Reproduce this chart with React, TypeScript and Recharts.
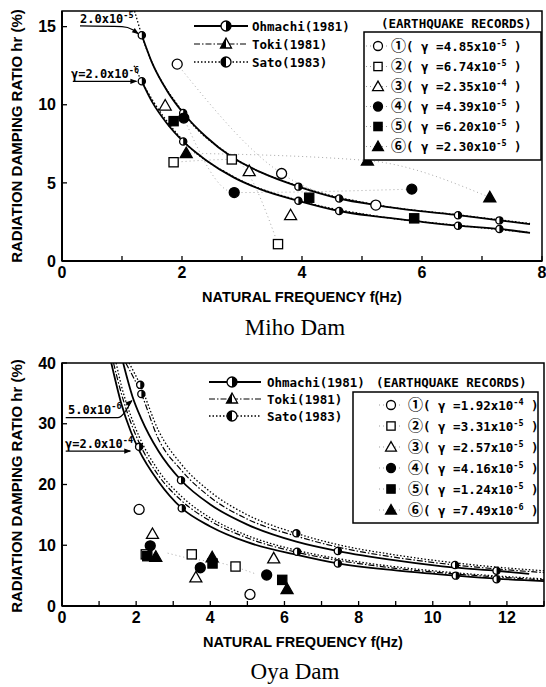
import React from "react";
import { ComposedChart, Line, Scatter, XAxis, YAxis, ReferenceArea } from "recharts";

// ---------- Miho Dam (top) ----------
const mihoXTicks = [0, 1, 2, 3, 4, 5, 6, 7, 8];
const mihoYTicks = [0, 5, 10, 15];

// Ohmachi (1981), gamma = 2.0x10^-5
const mihoOhHighF = [1.33, 1.5, 1.75, 2.02, 2.4, 2.83, 3.3, 3.94, 4.62, 5.23, 5.9, 6.6, 7.29, 7.8];
const mihoOhHighV = [14.45, 12.7, 10.9, 9.47, 7.95, 6.65, 5.7, 4.76, 4.0, 3.58, 3.22, 2.93, 2.6, 2.36];
// Ohmachi (1981), gamma = 2.0x10^-6
const mihoOhLowF = [1.33, 1.5, 1.75, 2.02, 2.4, 2.86, 3.3, 3.94, 4.62, 5.23, 5.9, 6.6, 7.29, 7.8];
const mihoOhLowV = [11.5, 10.2, 8.8, 7.65, 6.45, 5.35, 4.6, 3.85, 3.2, 2.85, 2.55, 2.26, 2.05, 1.8];
// Sato (1983)
const mihoSatoHighF = [1.21, 1.33, 2.02, 2.83, 3.94, 5.23, 6.6, 7.8];
const mihoSatoHighV = [16, 14.45, 9.5, 6.7, 4.8, 3.6, 2.95, 2.4];
const mihoSatoLowF = [1.2, 1.33, 2.02, 2.86, 3.94, 5.23, 6.6, 7.8];
const mihoSatoLowV = [12.5, 11.5, 7.7, 5.4, 3.88, 2.88, 2.28, 1.82];

// curve markers
const mihoMarkF = [1.33, 2.02, 3.94, 4.62, 6.6, 7.29, 1.33, 2.02, 3.94, 4.62, 6.6, 7.29];
const mihoMarkV = [14.45, 9.47, 4.76, 4.0, 2.93, 2.6, 11.5, 7.65, 3.85, 3.2, 2.26, 2.05];

// earthquake records
const mihoR1F = [1.92, 3.66, 5.23];
const mihoR1V = [12.6, 5.6, 3.58];
const mihoR2F = [1.86, 2.83, 3.6];
const mihoR2V = [6.32, 6.5, 1.08];
const mihoR3F = [1.72, 3.12, 3.81];
const mihoR3V = [9.95, 5.75, 2.93];
const mihoR4F = [2.03, 2.87, 5.83];
const mihoR4V = [9.15, 4.38, 4.6];
const mihoR5F = [1.86, 4.12, 5.87];
const mihoR5V = [8.95, 4.05, 2.73];
const mihoR6F = [2.07, 5.09, 7.13];
const mihoR6V = [6.9, 6.43, 4.07];
const mihoRecLabels = ["4.85", "6.74", "2.35", "4.39", "6.20", "2.30"];
const mihoRecExps = ["-5", "-5", "-4", "-5", "-5", "-5"];

// ---------- Oya Dam (bottom) ----------
const oyaXTicks = [0, 1, 2, 3, 4, 5, 6, 7, 8, 9, 10, 11, 12, 13];
const oyaYTicks = [0, 10, 20, 30, 40];

const oyaOhHighF = [1.65, 1.9, 2.14, 2.6, 3.21, 4, 5, 6.32, 7.44, 9, 10.6, 11.72, 12.6];
const oyaOhHighV = [40, 34.5, 30.8, 25.5, 20.7, 16.7, 13.4, 10.6, 9.05, 7.5, 6.3, 5.8, 5.3];
const oyaTokiHighF = [1.72, 2.14, 2.6, 3.21, 4, 5, 6.32, 7.44, 9, 10.6, 11.72, 13];
const oyaTokiHighV = [40, 34.9, 27.5, 22.4, 17.9, 14.3, 11.5, 9.7, 8.0, 6.75, 6.1, 5.5];
const oyaSatoHighF = [1.81, 2.11, 2.6, 3.21, 4, 5, 6.32, 7.44, 9, 10.6, 11.72, 13];
const oyaSatoHighV = [40, 36.4, 28.9, 23.4, 18.8, 15.0, 11.96, 10.1, 8.4, 7.1, 6.4, 5.8];

const oyaOhLowF = [1.33, 1.6, 1.85, 2.08, 2.6, 3.23, 4, 5, 6.34, 7.44, 9, 10.62, 11.72, 13];
const oyaOhLowV = [40, 33.3, 28.8, 25.6, 20.5, 16.1, 13.1, 10.5, 8.4, 7.0, 5.85, 5.0, 4.5, 4.1];
const oyaTokiLowF = [1.39, 1.6, 1.85, 2.08, 2.6, 3.23, 4, 5, 6.34, 7.44, 9, 10.62, 11.72, 13];
const oyaTokiLowV = [40, 35, 30.3, 26.9, 21.5, 17.3, 14, 11.2, 8.83, 7.53, 6.2, 5.27, 4.78, 4.3];
const oyaSatoLowF = [1.46, 1.6, 1.85, 2.08, 2.6, 3.23, 4, 5, 6.34, 7.44, 9, 10.62, 11.72, 13];
const oyaSatoLowV = [40, 36.3, 31.4, 27.9, 22.3, 18, 14.5, 11.6, 9.15, 7.8, 6.45, 5.46, 4.95, 4.46];

const oyaMarkF = [2.11, 2.14, 3.21, 6.32, 7.44, 10.6, 11.72, 2.08, 3.23, 6.34, 7.44, 10.62, 11.72];
const oyaMarkV = [36.4, 34.9, 20.7, 11.96, 9.05, 6.75, 5.8, 26.2, 16.1, 8.94, 7.0, 5.0, 4.4];

const oyaR1F = [2.08, 5.07];
const oyaR1V = [15.9, 1.9];
const oyaR2F = [2.26, 3.5, 4.68];
const oyaR2V = [8.5, 8.5, 6.5];
const oyaR3F = [2.44, 3.61, 5.71];
const oyaR3V = [11.86, 4.7, 7.85];
const oyaR4F = [2.38, 3.73, 5.52];
const oyaR4V = [9.9, 6.3, 5.1];
const oyaR5F = [2.3, 4.06, 5.94];
const oyaR5V = [8.2, 7.0, 4.3];
const oyaR6F = [2.53, 4.05, 6.07];
const oyaR6V = [8.1, 8.0, 2.8];
const oyaTraceF = [2.85, 3.43, 4.33, 5.23];
const oyaTraceV = [8.7, 7.85, 7.0, 5.27];
const oyaRecLabels = ["1.92", "3.31", "2.57", "4.16", "1.24", "7.49"];
const oyaRecExps = ["-4", "-5", "-5", "-5", "-5", "-6"];

// annotation leaders (with arrow tips at the last point)
const mihoLead1F = [0.3, 1.0, 1.18, 1.27];
const mihoLead1V = [15.05, 15.0, 14.8, 14.55];
const mihoLead2F = [0.18, 1.24];
const mihoLead2V = [11.5, 11.5];
const oyaLead1F = [0.1, 1.5, 1.88];
const oyaLead1V = [31, 31, 33.8];
const oyaLead2F = [0.1, 1.84];
const oyaLead2V = [25.5, 25.5];

const recordKinds = ["oc", "os", "ot", "fc", "fs", "ft"];
const circled = ["①", "②", "③", "④", "⑤", "⑥"];

type Pt = { f: number; v: number };
const zip = (f: number[], v: number[]): Pt[] => f.map((x, i) => ({ f: x, v: v[i] }));
const last = (f: number[], v: number[]): Pt => ({ f: f[f.length - 1], v: v[v.length - 1] });

const MONO = '"DejaVu Sans Mono", "Noto Sans CJK JP", monospace';
const CJK = '"Noto Sans CJK JP", "DejaVu Sans", sans-serif';
const SANS = '"Liberation Sans", Arial, sans-serif';
const SERIF = '"Liberation Serif", "Times New Roman", serif';

function Mark({ cx, cy, kind, s = 1 }: { cx: number; cy: number; kind: string; s?: number }) {
  const st = { stroke: "#000", strokeWidth: 1.3 };
  const fill = kind.startsWith("f") ? "#000" : "#fff";
  if (kind.endsWith("c")) return <circle cx={cx} cy={cy} r={5 * s} fill={fill} {...st} />;
  if (kind.endsWith("s"))
    return <rect x={cx - 4.6 * s} y={cy - 4.6 * s} width={9.2 * s} height={9.2 * s} fill={fill} {...st} />;
  return (
    <polygon
      points={`${cx},${cy - 6 * s} ${cx + 6 * s},${cy + 4.5 * s} ${cx - 6 * s},${cy + 4.5 * s}`}
      fill={fill}
      {...st}
    />
  );
}

function HalfDot({ cx, cy, r = 3.6, left = false }: { cx: number; cy: number; r?: number; left?: boolean }) {
  const d = `M${cx},${cy - r} A${r},${r} 0 0 ${left ? 0 : 1} ${cx},${cy + r} Z`;
  return (
    <g>
      <circle cx={cx} cy={cy} r={r} fill="#fff" stroke="#000" strokeWidth={1.3} />
      <path d={d} fill="#000" />
    </g>
  );
}

// small arrow head pointing right (rotated for the curved leaders)
function Tip({ cx, cy, angle = 0 }: { cx: number; cy: number; angle?: number }) {
  return (
    <polygon
      points={`${cx + 1},${cy} ${cx - 6},${cy - 2.6} ${cx - 6},${cy + 2.6}`}
      fill="#000"
      transform={`rotate(${angle} ${cx} ${cy})`}
    />
  );
}

const lineStyle: Record<string, { dash?: string; w: number }> = {
  oh: { w: 1.8 },
  toki: { dash: "6 2 1.5 2", w: 1.2 },
  sato: { dash: "1.5 2", w: 1.3 },
};

type Curve = { pts: Pt[]; kind: string };
type Rec = { pts: Pt[]; kind: string };

function DamChart(props: {
  top: number;
  height: number;
  right: number;
  xMax: number;
  yMax: number;
  xTicks: number[];
  yTicks: number[];
  curves: Curve[];
  records: Rec[];
  traces: Pt[][];
  markers: Pt[];
  leaders: Pt[][];
  tips: { p: Pt; angle: number }[];
}) {
  const tick = { fill: "#000", fontSize: 16, fontWeight: "bold", fontFamily: SANS };
  return (
    <div style={{ position: "absolute", left: 0, top: props.top }}>
      <ComposedChart width={546} height={props.height} margin={{ top: 11, right: props.right, bottom: 0, left: 0 }}>
        <XAxis
          type="number"
          dataKey="f"
          domain={[0, props.xMax]}
          ticks={props.xTicks}
          interval={0}
          tickFormatter={(t: number) => (t % 2 === 0 ? String(t) : "")}
          tickSize={-5}
          tickMargin={11}
          height={44}
          axisLine={{ stroke: "#000", strokeWidth: 2 }}
          tickLine={{ stroke: "#000", strokeWidth: 1.3 }}
          tick={tick}
          allowDataOverflow
          label={{
            value: "NATURAL FREQUENCY  f(Hz)",
            position: "insideBottom",
            offset: 3,
            fill: "#000",
            fontSize: 14.5,
            fontWeight: "bold",
            fontFamily: SANS,
          }}
        />
        <YAxis
          type="number"
          dataKey="v"
          domain={[0, props.yMax]}
          ticks={props.yTicks}
          interval={0}
          width={62}
          tickSize={-5}
          tickMargin={11}
          axisLine={{ stroke: "#000", strokeWidth: 2 }}
          tickLine={{ stroke: "#000", strokeWidth: 1.3 }}
          tick={tick}
          allowDataOverflow
        />
        <ReferenceArea x1={0} x2={props.xMax} y1={0} y2={props.yMax} fill="none" stroke="#000" strokeWidth={1.5} />
        {props.traces.map((t, i) => (
          <Line
            key={"t" + i}
            data={t}
            dataKey="v"
            type="monotone"
            stroke="#a8a8a8"
            strokeWidth={1}
            strokeDasharray="1 3"
            dot={false}
            activeDot={false}
            isAnimationActive={false}
          />
        ))}
        {props.curves.map((c, i) => (
          <Line
            key={"c" + i}
            data={c.pts}
            dataKey="v"
            type="monotone"
            stroke="#000"
            strokeWidth={lineStyle[c.kind].w}
            strokeDasharray={lineStyle[c.kind].dash}
            dot={false}
            activeDot={false}
            isAnimationActive={false}
          />
        ))}
        {props.leaders.map((l, i) => (
          <Line
            key={"l" + i}
            data={l}
            dataKey="v"
            type="monotone"
            stroke="#000"
            strokeWidth={1.2}
            dot={false}
            activeDot={false}
            isAnimationActive={false}
          />
        ))}
        {props.tips.map((t, i) => (
          <Scatter
            key={"a" + i}
            data={[t.p]}
            dataKey="v"
            isAnimationActive={false}
            shape={(p: any) => <Tip cx={p.cx} cy={p.cy} angle={t.angle} />}
          />
        ))}
        <Scatter
          data={props.markers}
          dataKey="v"
          isAnimationActive={false}
          shape={(p: any) => <HalfDot cx={p.cx} cy={p.cy} />}
        />
        {props.records.map((r, i) => (
          <Scatter
            key={"r" + i}
            data={r.pts}
            dataKey="v"
            isAnimationActive={false}
            shape={(p: any) => <Mark cx={p.cx} cy={p.cy} kind={r.kind} />}
          />
        ))}
      </ComposedChart>
    </div>
  );
}

function Sup({ base, exp }: { base: string; exp: string }) {
  return (
    <>
      {base}
      <tspan dy={-5} fontSize={8.5}>
        {exp}
      </tspan>
    </>
  );
}

function Legends(props: {
  keyRows: number[];
  keyX1: number;
  keyX2: number;
  keyMark: number;
  keyText: number;
  headX: number;
  headY: number;
  box: [number, number, number, number];
  rows: number[];
  symX: number;
  textX: number;
  labels: string[];
  exps: string[];
}) {
  const names = ["Ohmachi(1981)", "Toki(1981)", "Sato(1983)"];
  const kinds = ["oh", "toki", "sato"];
  const txt = { fontFamily: MONO, fontSize: 12.5, fontWeight: "bold" as const, fill: "#000" };
  return (
    <g>
      {props.keyRows.map((y, i) => (
        <g key={i}>
          <line
            x1={props.keyX1}
            x2={props.keyX2}
            y1={y}
            y2={y}
            stroke="#000"
            strokeWidth={lineStyle[kinds[i]].w}
            strokeDasharray={lineStyle[kinds[i]].dash}
          />
          {i === 1 ? (
            <g>
              <polygon
                points={`${props.keyMark},${y - 6} ${props.keyMark + 5.5},${y + 4} ${props.keyMark - 5.5},${y + 4}`}
                fill="#fff"
                stroke="#000"
                strokeWidth={1.3}
              />
              <polygon
                points={`${props.keyMark},${y - 6} ${props.keyMark},${y + 4} ${props.keyMark - 5.5},${y + 4}`}
                fill="#000"
              />
            </g>
          ) : (
            <HalfDot cx={props.keyMark} cy={y} r={5} left={i === 2} />
          )}
          <text x={props.keyText} y={y + 4.5} {...txt}>
            {names[i]}
          </text>
        </g>
      ))}
      <text x={props.headX} y={props.headY} {...txt}>
        (EARTHQUAKE RECORDS)
      </text>
      <rect
        x={props.box[0]}
        y={props.box[1]}
        width={props.box[2]}
        height={props.box[3]}
        fill="#fff"
        stroke="#000"
        strokeWidth={1.5}
      />
      {props.rows.map((y, i) => (
        <g key={"r" + i}>
          <line x1={props.symX - 12} x2={props.symX + 12} y1={y} y2={y} stroke="#999" strokeDasharray="1 3" />
          <Mark cx={props.symX} cy={y} kind={recordKinds[i]} s={0.9} />
          <text x={props.textX} y={y + 4.5} {...txt}>
            <tspan fontFamily={CJK} fontSize={15} fontWeight="bold">
              {circled[i]}
            </tspan>
            ( γ ={props.labels[i]}x10
            <tspan dy={-5} fontSize={8.5}>
              {props.exps[i]}
            </tspan>
            <tspan dy={5}> )</tspan>
          </text>
        </g>
      ))}
    </g>
  );
}

export default function App() {
  const annot = { fontFamily: MONO, fontSize: 12, fontWeight: "bold" as const, fill: "#000" };
  const yTitle: React.CSSProperties = {
    position: "absolute",
    left: 17 - 150,
    width: 300,
    height: 18,
    lineHeight: "18px",
    textAlign: "center",
    transform: "rotate(-90deg)",
    fontFamily: SANS,
    fontWeight: "bold",
    fontSize: 15,
    whiteSpace: "nowrap",
  };
  const damTitle: React.CSSProperties = {
    position: "absolute",
    left: 0,
    width: 590,
    textAlign: "center",
    fontFamily: SERIF,
    fontSize: 23,
    lineHeight: "26px",
  };
  return (
    <div style={{ position: "absolute", left: 0, top: 0, width: 546, height: 687, background: "#fff", overflow: "hidden" }}>
      <DamChart
        top={0}
        height={305}
        right={4}
        xMax={8}
        yMax={16}
        xTicks={mihoXTicks}
        yTicks={mihoYTicks}
        curves={[
          { pts: zip(mihoOhHighF, mihoOhHighV), kind: "oh" },
          { pts: zip(mihoOhLowF, mihoOhLowV), kind: "oh" },
          { pts: zip(mihoSatoHighF, mihoSatoHighV), kind: "sato" },
          { pts: zip(mihoSatoLowF, mihoSatoLowV), kind: "sato" },
        ]}
        records={[
          { pts: zip(mihoR1F, mihoR1V), kind: "oc" },
          { pts: zip(mihoR2F, mihoR2V), kind: "os" },
          { pts: zip(mihoR3F, mihoR3V), kind: "ot" },
          { pts: zip(mihoR4F, mihoR4V), kind: "fc" },
          { pts: zip(mihoR5F, mihoR5V), kind: "fs" },
          { pts: zip(mihoR6F, mihoR6V), kind: "ft" },
        ]}
        traces={[
          zip(mihoR1F, mihoR1V),
          zip(mihoR2F, mihoR2V),
          zip(mihoR4F, mihoR4V),
          zip(mihoR6F, mihoR6V),
        ]}
        markers={zip(mihoMarkF, mihoMarkV)}
        leaders={[zip(mihoLead1F, mihoLead1V), zip(mihoLead2F, mihoLead2V)]}
        tips={[
          { p: last(mihoLead1F, mihoLead1V), angle: 35 },
          { p: last(mihoLead2F, mihoLead2V), angle: 0 },
        ]}
      />
      <DamChart
        top={352}
        height={298}
        right={2}
        xMax={13}
        yMax={40}
        xTicks={oyaXTicks}
        yTicks={oyaYTicks}
        curves={[
          { pts: zip(oyaOhHighF, oyaOhHighV), kind: "oh" },
          { pts: zip(oyaTokiHighF, oyaTokiHighV), kind: "toki" },
          { pts: zip(oyaSatoHighF, oyaSatoHighV), kind: "sato" },
          { pts: zip(oyaOhLowF, oyaOhLowV), kind: "oh" },
          { pts: zip(oyaTokiLowF, oyaTokiLowV), kind: "toki" },
          { pts: zip(oyaSatoLowF, oyaSatoLowV), kind: "sato" },
        ]}
        records={[
          { pts: zip(oyaR1F, oyaR1V), kind: "oc" },
          { pts: zip(oyaR2F, oyaR2V), kind: "os" },
          { pts: zip(oyaR3F, oyaR3V), kind: "ot" },
          { pts: zip(oyaR4F, oyaR4V), kind: "fc" },
          { pts: zip(oyaR5F, oyaR5V), kind: "fs" },
          { pts: zip(oyaR6F, oyaR6V), kind: "ft" },
        ]}
        traces={[zip(oyaTraceF, oyaTraceV)]}
        markers={zip(oyaMarkF, oyaMarkV)}
        leaders={[zip(oyaLead1F, oyaLead1V), zip(oyaLead2F, oyaLead2V)]}
        tips={[
          { p: last(oyaLead1F, oyaLead1V), angle: -40 },
          { p: last(oyaLead2F, oyaLead2V), angle: 0 },
        ]}
      />

      <svg width={546} height={687} style={{ position: "absolute", left: 0, top: 0, pointerEvents: "none" }}>
        <Legends
          keyRows={[26, 44, 62]}
          keyX1={194}
          keyX2={248}
          keyMark={226}
          keyText={252}
          headX={381}
          headY={28}
          box={[364, 32, 177, 128]}
          rows={[46, 66.5, 86.5, 106.5, 126.5, 146.5]}
          symX={378}
          textX={391}
          labels={mihoRecLabels}
          exps={mihoRecExps}
        />
        <Legends
          keyRows={[382, 399, 416]}
          keyX1={209}
          keyX2={261}
          keyMark={232}
          keyText={267}
          headX={376}
          headY={387}
          box={[353, 392, 185, 131]}
          rows={[405, 426, 447, 468, 489, 510]}
          symX={391}
          textX={408}
          labels={oyaRecLabels}
          exps={oyaRecExps}
        />
        <text x={80} y={23} {...annot}>
          <Sup base="2.0x10" exp="-5" />
        </text>
        <text x={71} y={78} {...annot}>
          <Sup base="γ=2.0x10" exp="-6" />
        </text>
        <text x={68} y={414} {...annot}>
          <Sup base="5.0x10" exp="-6" />
        </text>
        <text x={65} y={448} {...annot}>
          <Sup base="γ=2.0x10" exp="-4" />
        </text>
      </svg>

      <div style={{ ...yTitle, top: 136 - 9 }}>RADIATION DAMPING RATIO hr (%)</div>
      <div style={{ ...yTitle, top: 486 - 9 }}>RADIATION DAMPING RATIO hr (%)</div>
      <div style={{ ...damTitle, top: 315 }}>Miho Dam</div>
      <div style={{ ...damTitle, top: 659 }}>Oya Dam</div>
    </div>
  );
}
